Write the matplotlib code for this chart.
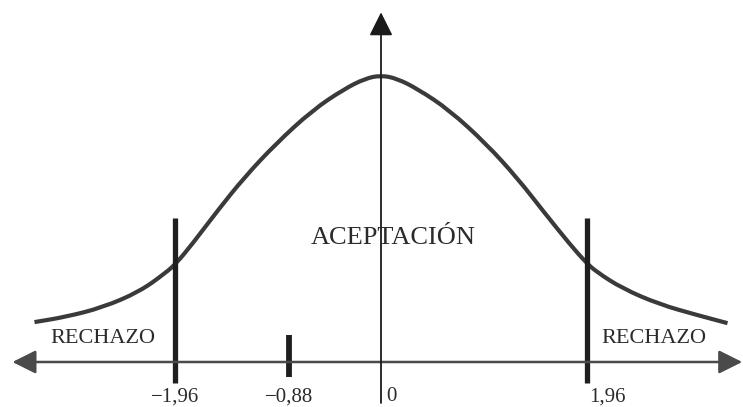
import matplotlib
matplotlib.use("Agg")
import matplotlib.pyplot as plt
from matplotlib.path import Path
from matplotlib.patches import PathPatch

# curve: z position and height above the axis
curve_z = [-3.3, -3.0, -2.65, -2.3, -2.05, -1.95, -1.8, -1.55, -1.3, -1.0, -0.65, -0.35, -0.15, 0.0,
           0.15, 0.35, 0.65, 1.0, 1.3, 1.55, 1.8, 1.95, 2.05, 2.3, 2.65, 3.0, 3.3]
curve_h = [0.38, 0.43, 0.52, 0.67, 0.85, 0.94, 1.12, 1.45, 1.76, 2.08, 2.40, 2.60, 2.70, 2.73,
           2.70, 2.60, 2.40, 2.08, 1.75, 1.43, 1.12, 0.95, 0.86, 0.70, 0.55, 0.45, 0.37]

critical_values = [-1.96, 1.96]
critical_labels = ["\u22121,96", "1,96"]
observed_value = -0.88
observed_label = "\u22120,88"
center_label = "0"

region_accept = "ACEPTACIÓN"
region_reject = "RECHAZO"

INK = "#2b2b2b"
SERIF = ["Liberation Serif", "DejaVu Serif"]


def smooth_path(xs, ys):
    # quadratic bezier through the midpoints, the read points act as controls
    pts = list(zip(xs, ys))
    verts = [pts[0], ((pts[0][0] + pts[1][0]) / 2, (pts[0][1] + pts[1][1]) / 2)]
    codes = [Path.MOVETO, Path.LINETO]
    for i in range(1, len(pts) - 1):
        mid = ((pts[i][0] + pts[i + 1][0]) / 2, (pts[i][1] + pts[i + 1][1]) / 2)
        verts += [pts[i], mid]
        codes += [Path.CURVE3, Path.CURVE3]
    verts.append(pts[-1])
    codes.append(Path.LINETO)
    return Path(verts, codes)


fig = plt.figure(figsize=(7.43, 4.07), dpi=100)
ax = fig.add_axes([0, 0, 1, 1])
ax.set_xlim(-3.6286, 3.4476)
ax.set_ylim(-0.4286, 3.4476)
ax.axis("off")

# horizontal axis with arrows at both ends
ax.annotate("", xy=(3.44, 0), xytext=(-3.51, 0),
            arrowprops=dict(arrowstyle="<|-|>,head_length=0.4,head_width=0.2",
                            mutation_scale=36, shrinkA=0, shrinkB=0,
                            lw=1.8, color="#4a4a4a"))

# vertical axis through 0 with arrow on top
ax.annotate("", xy=(0, 3.33), xytext=(0, -0.39),
            arrowprops=dict(arrowstyle="-|>,head_length=0.4,head_width=0.2",
                            mutation_scale=36, shrinkA=0, shrinkB=0,
                            lw=1.3, color="#1a1a1a", facecolor="#3a3a3a"))

# bell curve
ax.add_patch(PathPatch(smooth_path(curve_z, curve_h), facecolor="none",
                       edgecolor="#3a3a3a", lw=3.0, capstyle="butt"))

# critical value bars
for z in critical_values:
    ax.plot([z, z], [-0.20, 1.37], color="#1f1f1f", lw=3.8, solid_capstyle="butt")

# observed statistic tick
ax.plot([observed_value, observed_value], [-0.14, 0.26], color="#1f1f1f", lw=4.2,
        solid_capstyle="butt")

# labels under the axis
label_y = -0.375
ax.text(critical_values[0], label_y, critical_labels[0], ha="center", va="baseline",
        fontsize=15, family=SERIF, color=INK)
ax.text(critical_values[1] + 0.02, label_y, critical_labels[1], ha="left", va="baseline",
        fontsize=15, family=SERIF, color=INK)
ax.text(observed_value, label_y, observed_label, ha="center", va="baseline",
        fontsize=15, family=SERIF, color=INK)
ax.text(0.05, label_y, center_label, ha="left", va="baseline",
        fontsize=15, family=SERIF, color=INK)

# region names
ax.text(0.12, 1.124, region_accept, ha="center", va="baseline",
        fontsize=19, family=SERIF, color=INK)
ax.text(-2.65, 0.181, region_reject, ha="center", va="baseline",
        fontsize=16, family=SERIF, color=INK)
ax.text(2.60, 0.181, region_reject, ha="center", va="baseline",
        fontsize=16, family=SERIF, color=INK)

fig.savefig("out.png", dpi=100)
